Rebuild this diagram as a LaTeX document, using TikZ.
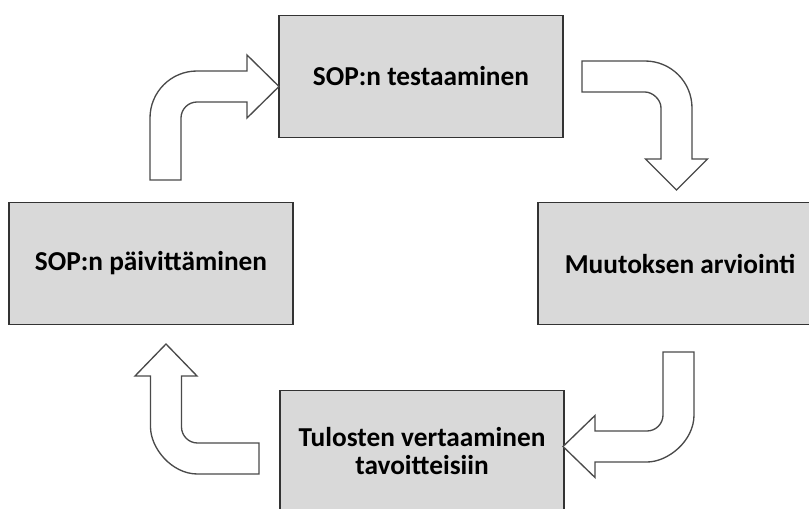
\documentclass[tikz,border=0pt]{standalone}
\usepackage{fontspec}
\setmainfont{Carlito}

\definecolor{boxgray}{HTML}{D9D9D9}
\definecolor{edgegray}{HTML}{333333}
\definecolor{arrowgray}{HTML}{4A4A4A}

\begin{document}
\begin{tikzpicture}[x=0.75pt,y=-0.75pt,
    stage/.style={draw=edgegray, line width=0.9pt, fill=boxgray,
        minimum width=213pt, minimum height=92pt, align=center,
        font=\fontsize{20.5}{21}\selectfont\bfseries},
    blockarrow/.style={draw=arrowgray, line width=1pt, fill=white, line join=miter}]

    % Frame of the picture
    \useasboundingbox (0,0) rectangle (809,509);
    \clip (0,0) rectangle (809,509);

    % Centres of the four stages
    \coordinate (T) at (421,76.5);   % top
    \coordinate (R) at (680,263.5);  % right
    \coordinate (B) at (422,451.5);  % bottom
    \coordinate (L) at (151,263.5);  % left

    % The four stages
    \node[stage] (test) at (T) {SOP:n testaaminen};
    \node[stage] (eval) at (R) {Muutoksen arviointi};
    \node[stage] (comp) at (B) {Tulosten vertaaminen\\tavoitteisiin};
    \node[stage] (upd)  at (L) {SOP:n päivittäminen};

    % Arrow from updating to testing
    \draw[blockarrow] (150,180) -- (150,118) .. controls (150,92) and (171,71) .. (197,71)
        -- (247,71) -- (247,55) -- (279,86.5) -- (247,118) -- (247,102) -- (197,102)
        .. controls (188.2,102) and (181,109.2) .. (181,118) -- (181,180) -- cycle;

    % Arrow from testing to evaluation
    \draw[blockarrow] (582,61) -- (645,61) .. controls (671,61) and (692,82) .. (692,108)
        -- (692,159) -- (707.5,159) -- (676.5,190) -- (645.5,159) -- (661,159) -- (661,108)
        .. controls (661,99.2) and (652.2,92) .. (645,92) -- (582,92) -- cycle;

    % Arrow from evaluation to comparison
    \draw[blockarrow] (663,352) -- (694,352) -- (694,415) .. controls (694,441) and (668,462) .. (647,462)
        -- (595,462) -- (595,477.5) -- (563,446.5) -- (595,415.5) -- (595,431) -- (647,431)
        .. controls (655.8,431) and (663,423.8) .. (663,415) -- cycle;

    % Arrow from comparison to updating
    \draw[blockarrow] (259,443) -- (259,474) -- (197.5,474) .. controls (171.5,474) and (150.5,448) .. (150.5,427)
        -- (150.5,376) -- (135,376) -- (166,344) -- (197,376) -- (181.5,376) -- (181.5,427)
        .. controls (181.5,435.8) and (188.7,443) .. (197.5,443) -- cycle;
\end{tikzpicture}
\end{document}
